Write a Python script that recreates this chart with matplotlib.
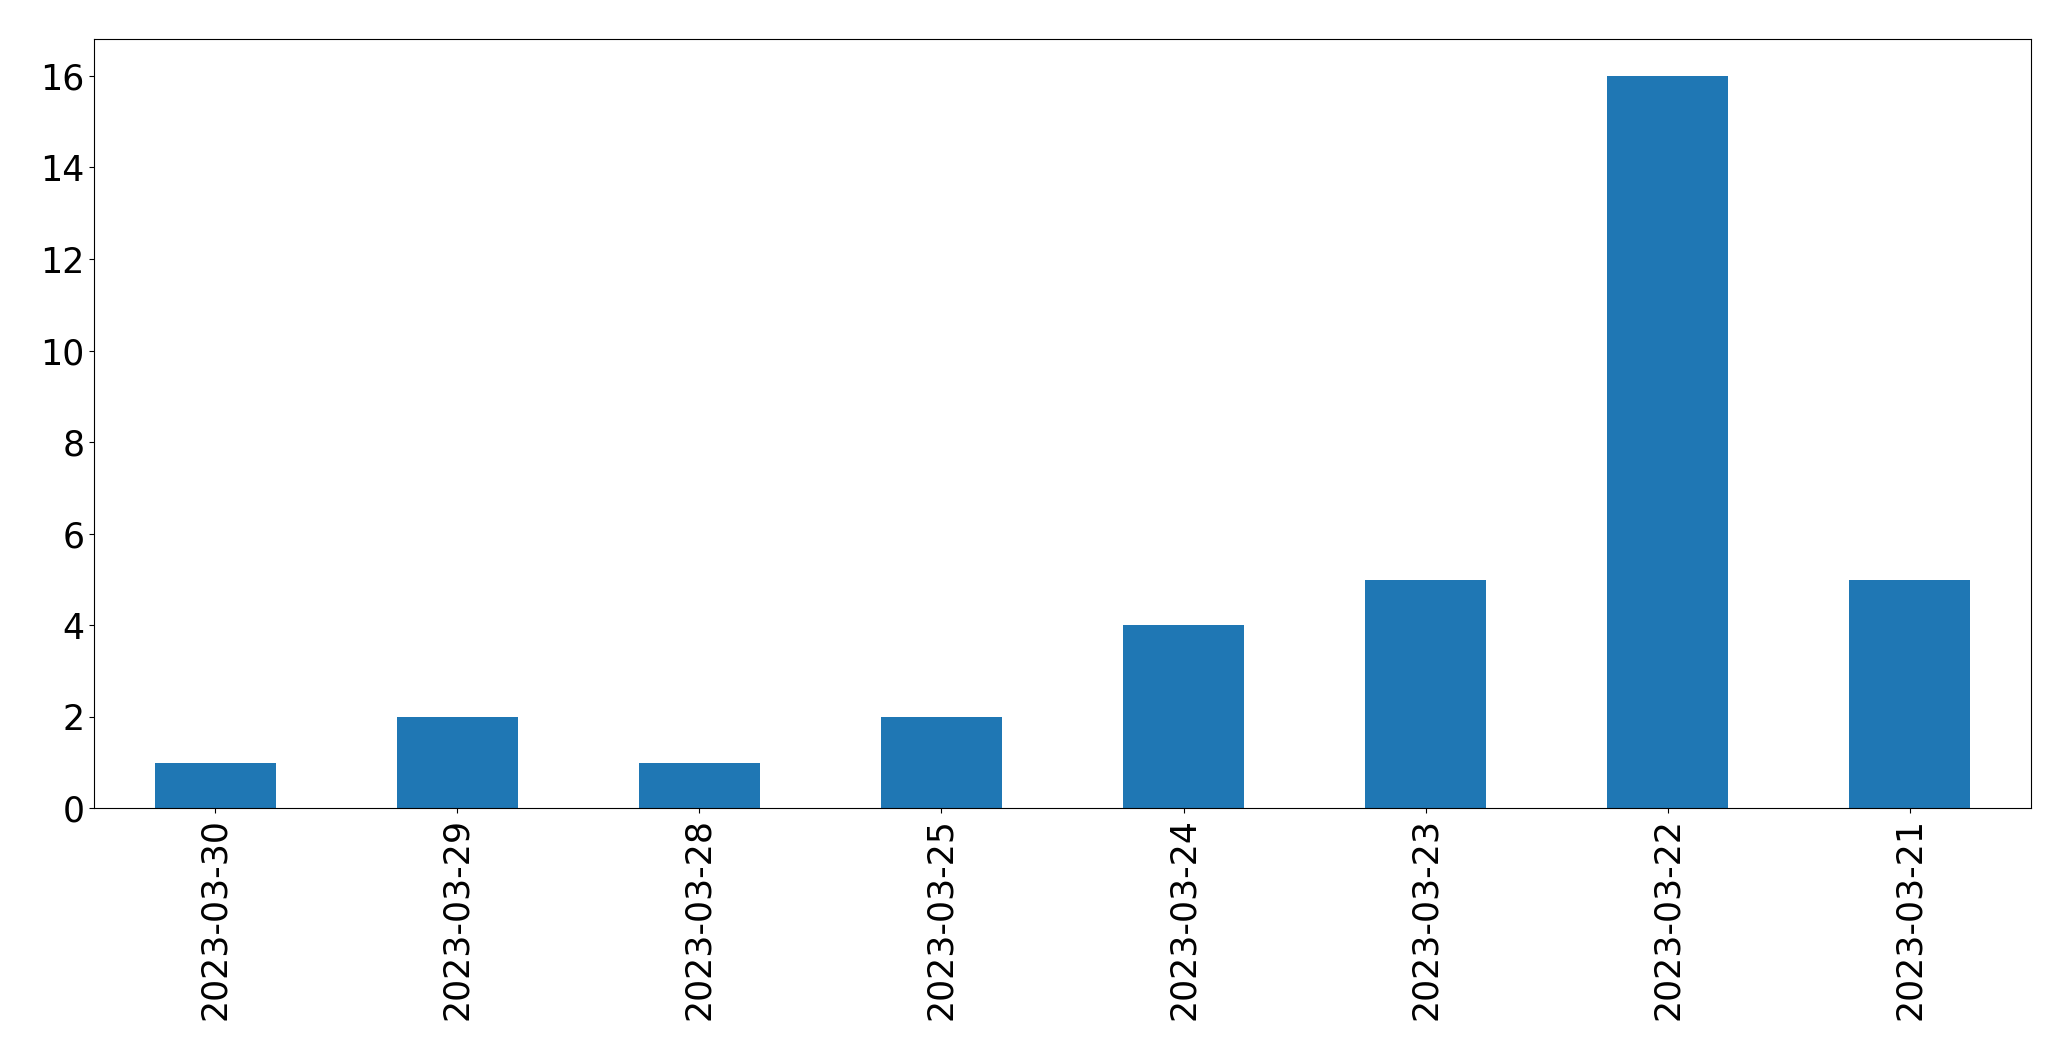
import matplotlib
matplotlib.use("Agg")
import matplotlib.pyplot as plt
import pandas as pd

dates = ["2023-03-30", "2023-03-29", "2023-03-28", "2023-03-25",
         "2023-03-24", "2023-03-23", "2023-03-22", "2023-03-21"]
counts = [1, 2, 1, 2, 4, 5, 16, 5]

series = pd.Series(counts, index=dates)

fig, ax = plt.subplots(figsize=(20.71, 10.61), dpi=100)
series.plot(ax=ax, kind="bar", color="#1f77b4")
ax.tick_params(axis="both", labelsize=25)
fig.subplots_adjust(left=0.0454, right=0.9807, top=0.963, bottom=0.238)
fig.savefig("out.png", dpi=100)
